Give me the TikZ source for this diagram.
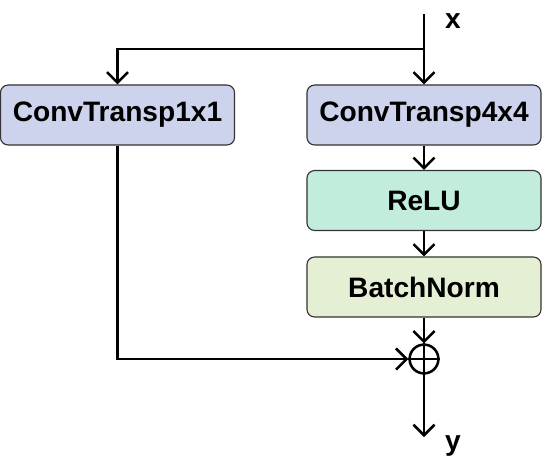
\documentclass[tikz,border=0pt]{standalone}
\usepackage{fontspec}
\setmainfont{Liberation Sans}
\usetikzlibrary{arrows.meta}
\definecolor{convcol}{HTML}{CDD3EC}
\definecolor{relucol}{HTML}{C2EDDC}
\definecolor{normcol}{HTML}{E5EFD4}
\definecolor{edgecol}{HTML}{333333}
\begin{document}
\begin{tikzpicture}[x=0.025cm, y=-0.025cm,
    line width=1.8pt,
    font=\fontsize{20}{24}\selectfont\bfseries,
    block/.style={rectangle, rounded corners=5.5pt, draw=edgecol, line width=0.8pt,
      minimum width=5.85cm, minimum height=1.5cm, inner sep=0pt},
    flow/.style={-{Straight Barb[length=7.5pt,width=15pt,line width=1.8pt]}},
    adder/.style={circle, draw, line width=1.8pt, minimum size=0.72cm, inner sep=0pt}
    ]
\useasboundingbox (0,0) rectangle (542,463);
\node[block, fill=convcol] (C1) at (117.5,115) {ConvTransp1x1};
\node[block, fill=convcol] (C4) at (424,115) {ConvTransp4x4};
\node[block, fill=relucol] (R) at (424,200.5) {ReLU};
\node[block, fill=normcol] (B) at (424,287) {BatchNorm};
\node[adder] (S) at (424,359) {};
\coordinate (X) at (424,14);
\coordinate (J) at (424,49);
\coordinate (Y) at (424,437);
\node (XL) at (453,21) {x};
\node (YL) at (453,446) {y};
\draw[flow] (X) -- (C4.north);
\draw[flow] (J) -| (C1.north);
\draw[flow] (C4) -- (R);
\draw[flow] (R) -- (B);
\draw[flow] (B) -- (S);
\draw[flow] (C1) |- (S);
\draw[flow] (S) -- (Y);
\draw (S.north) -- (S.south);
\draw (S.west) -- (S.east);
\end{tikzpicture}
\end{document}
